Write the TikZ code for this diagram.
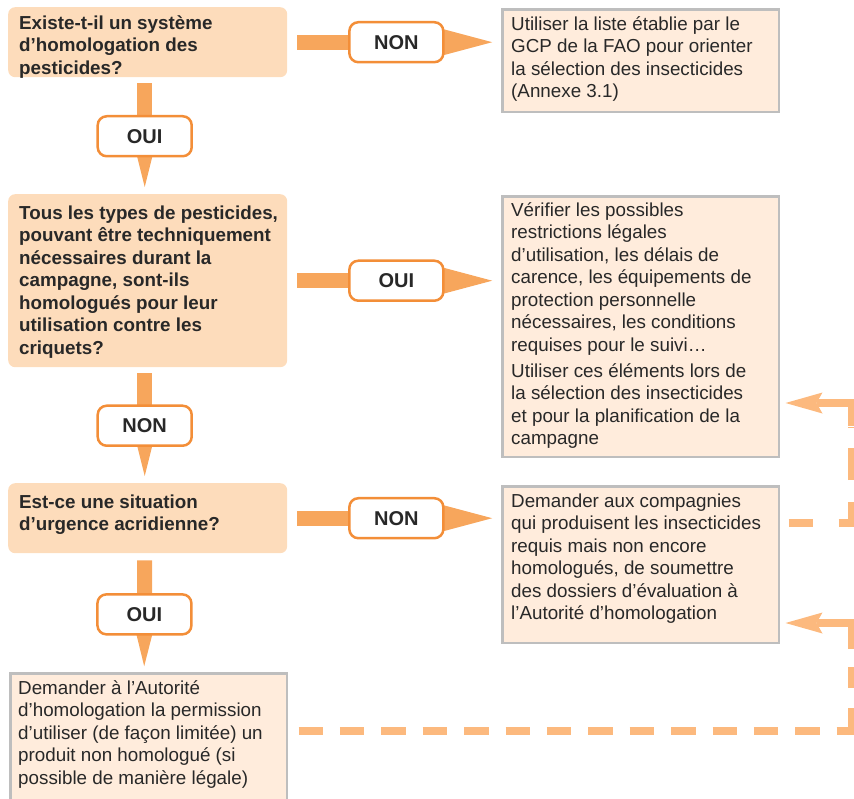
\documentclass[tikz,border=0pt]{standalone}
\usepackage{fontspec}
\setmainfont{Liberation Sans}
\usetikzlibrary{arrows.meta,calc}

\definecolor{qfill}{RGB}{253,220,187}
\definecolor{afill}{RGB}{255,236,220}
\definecolor{aborder}{RGB}{190,190,190}
\definecolor{barc}{RGB}{247,166,92}
\definecolor{lblc}{RGB}{243,142,56}
\definecolor{loopc}{RGB}{252,185,126}
\definecolor{ink}{RGB}{40,40,40}

\newcommand\tstrut{\rule{0pt}{19pt}}

\tikzset{
  qbox/.style={fill=qfill, rounded corners=7pt, inner sep=0pt, draw=none, anchor=north west},
  abox/.style={fill=afill, draw=aborder, line width=2.5pt, inner sep=0pt, anchor=north west},
  boxtext/.style={anchor=north west, align=left, inner sep=0pt, text=ink,
                  font=\fontsize{18.8}{22.5}\selectfont},
  qtext/.style={boxtext, font=\fontsize{18.8}{22.5}\selectfont\bfseries},
  flow/.style={draw=barc, line width=15pt, -{Triangle[length=60pt,width=32pt,line width=0pt]}},
  flowv/.style={draw=barc, line width=15pt, -{Triangle[length=60pt,width=30pt,line width=0pt]}},
  answer/.style={draw=lblc, fill=white, line width=2.5pt, rounded corners=9pt,
                 minimum width=94pt, minimum height=40pt, inner sep=0pt, text=ink,
                 font=\fontsize{20}{22}\selectfont\bfseries},
  loopdash/.style={draw=loopc, line width=8pt},
  loopback/.style={draw=loopc, line width=8pt, line join=miter,
                   -{Stealth[length=37pt,width=21pt,inset=6pt,line width=0pt]}},
}

\begin{document}
\begin{tikzpicture}[x=1pt,y=1pt]
\useasboundingbox (0,0) rectangle (854,-798);
\clip (0,0) rectangle (854,-798);

% question boxes
\node[qbox, minimum width=279pt, minimum height=70pt]  (q1) at (8,-7) {};
\node[qbox, minimum width=279pt, minimum height=173pt] (q2) at (8,-194) {};
\node[qbox, minimum width=279pt, minimum height=70pt]  (q3) at (8,-483) {};

% action boxes
\node[abox, minimum width=276.5pt, minimum height=102.5pt] (r1)  at (501.2,-8.2) {};
\node[abox, minimum width=276.5pt, minimum height=260.5pt] (r2)  at (501.2,-195.2) {};
\node[abox, minimum width=276.5pt, minimum height=156.5pt] (r3)  at (501.2,-485.2) {};
\node[abox, minimum width=276.5pt, minimum height=160pt]   (fin) at (9.2,-672.2) {};

% question texts
\node[qtext] (q1t) at ([shift={(11,-3)}]q1.north west)
  {\tstrut Existe-t-il un système\\d’homologation des\\pesticides?};
\node[qtext] (q2t) at ([shift={(11,-6)}]q2.north west)
  {\tstrut Tous les types de pesticides,\\pouvant être techniquement\\nécessaires durant la\\campagne, sont-ils\\homologués pour leur\\utilisation contre les\\criquets?};
\node[qtext] (q3t) at ([shift={(11,-6)}]q3.north west)
  {\tstrut Est-ce une situation\\d’urgence acridienne?};

% action texts
\node[boxtext] (r1t) at ([shift={(9.8,-2.8)}]r1.north west)
  {\tstrut Utiliser la liste établie par le\\GCP de la FAO pour orienter\\la sélection des insecticides\\(Annexe 3.1)};
\node[boxtext] (r2t) at ([shift={(9.8,-1.8)}]r2.north west)
  {\tstrut Vérifier les possibles\\restrictions légales\\d’utilisation, les délais de\\carence, les équipements de\\protection personnelle\\nécessaires, les conditions\\requises pour le suivi…\\[3.5pt]Utiliser ces éléments lors de\\la sélection des insecticides\\et pour la planification de la\\campagne};
\node[boxtext] (r3t) at ([shift={(9.8,-2.8)}]r3.north west)
  {\tstrut Demander aux compagnies\\qui produisent les insecticides\\requis mais non encore\\homologués, de soumettre\\des dossiers d’évaluation à\\l’Autorité d’homologation};
\node[boxtext] (fint) at ([shift={(8.8,-2.8)}]fin.north west)
  {\tstrut Demander à l’Autorité\\d’homologation la permission\\d’utiliser (de façon limitée) un\\produit non homologué (si\\possible de manière légale)};

% horizontal decision arrows
\coordinate (h1s) at ($(q1.east)+(10,0)$);
\coordinate (h1e) at ($(r1.west |- q1.east)+(-9,0)$);
\coordinate (h2s) at ($(q2.east)+(10,0)$);
\coordinate (h2e) at ($(r2.west |- q2.east)+(-9,0)$);
\coordinate (h3s) at ($(q3.east)+(10,0)$);
\coordinate (h3e) at ($(r3.west |- q3.east)+(-9,0)$);
\draw[flow] (h1s) -- (h1e);
\draw[flow] (h2s) -- (h2e);
\draw[flow] (h3s) -- (h3e);
\node[answer] (a1) at ($(h1s)!0.508!(h1e)$) {NON};
\node[answer] (a2) at ($(h2s)!0.508!(h2e)$) {OUI};
\node[answer] (a3) at ($(h3s)!0.508!(h3e)$) {NON};

% vertical decision arrows
\coordinate (v1s) at ($(q1.south)+(-3,-6)$);
\coordinate (v1e) at ($(q2.north)+(-3,7)$);
\coordinate (v2s) at ($(q2.south)+(-3,-6)$);
\coordinate (v2e) at ($(q3.north)+(-3,7)$);
\coordinate (v3s) at ($(q3.south)+(-3,-7)$);
\coordinate (v3e) at ($(fin.north)+(-4.5,6)$);
\draw[flowv] (v1s) -- (v1e);
\draw[flowv] (v2s) -- (v2e);
\draw[flowv] (v3s) -- (v3e);
\node[answer] (b1) at ($(v1s)!0.51!(v1e)$) {OUI};
\node[answer] (b2) at ($(v2s)!0.51!(v2e)$) {NON};
\node[answer] (b3) at ($(v3s)!0.51!(v3e)$) {OUI};

% feedback loop from the action box below into the middle action box
\coordinate (t0) at ($(r3.north east)+(8.3,-38)$);
\coordinate (t1) at (856,-523.2);
\coordinate (t2) at (852,-527.2);
\coordinate (t3) at (852,-427);
\coordinate (t4) at (852,-403);
\draw[loopdash, dash pattern=on 24pt off 26pt] (t0) -- (t1);
\draw[loopdash, dash pattern=on 25pt off 22pt on 32pt off 21pt] (t2) -- (t3);
\draw[loopback] ($(t3)+(0,1)$) -- (t4) -- ($(r2.east |- t4)+(5.3,0)$);

% feedback loop from the emergency request into the lower action box
\coordinate (u0) at ($(fin.north east)+(10.3,-59)$);
\coordinate (u1) at (856,-731.2);
\coordinate (u2) at (852,-735.2);
\coordinate (u3) at (852,-648);
\coordinate (u4) at (852,-623);
\draw[loopdash, dash pattern=on 24.4pt off 17pt] (u0) -- (u1);
\draw[loopdash, dash pattern=on 27pt off 20pt on 21pt off 19pt] (u2) -- (u3);
\draw[loopback] ($(u3)+(0,-1)$) -- (u4) -- ($(r3.east |- u4)+(5.3,0)$);
\end{tikzpicture}
\end{document}
